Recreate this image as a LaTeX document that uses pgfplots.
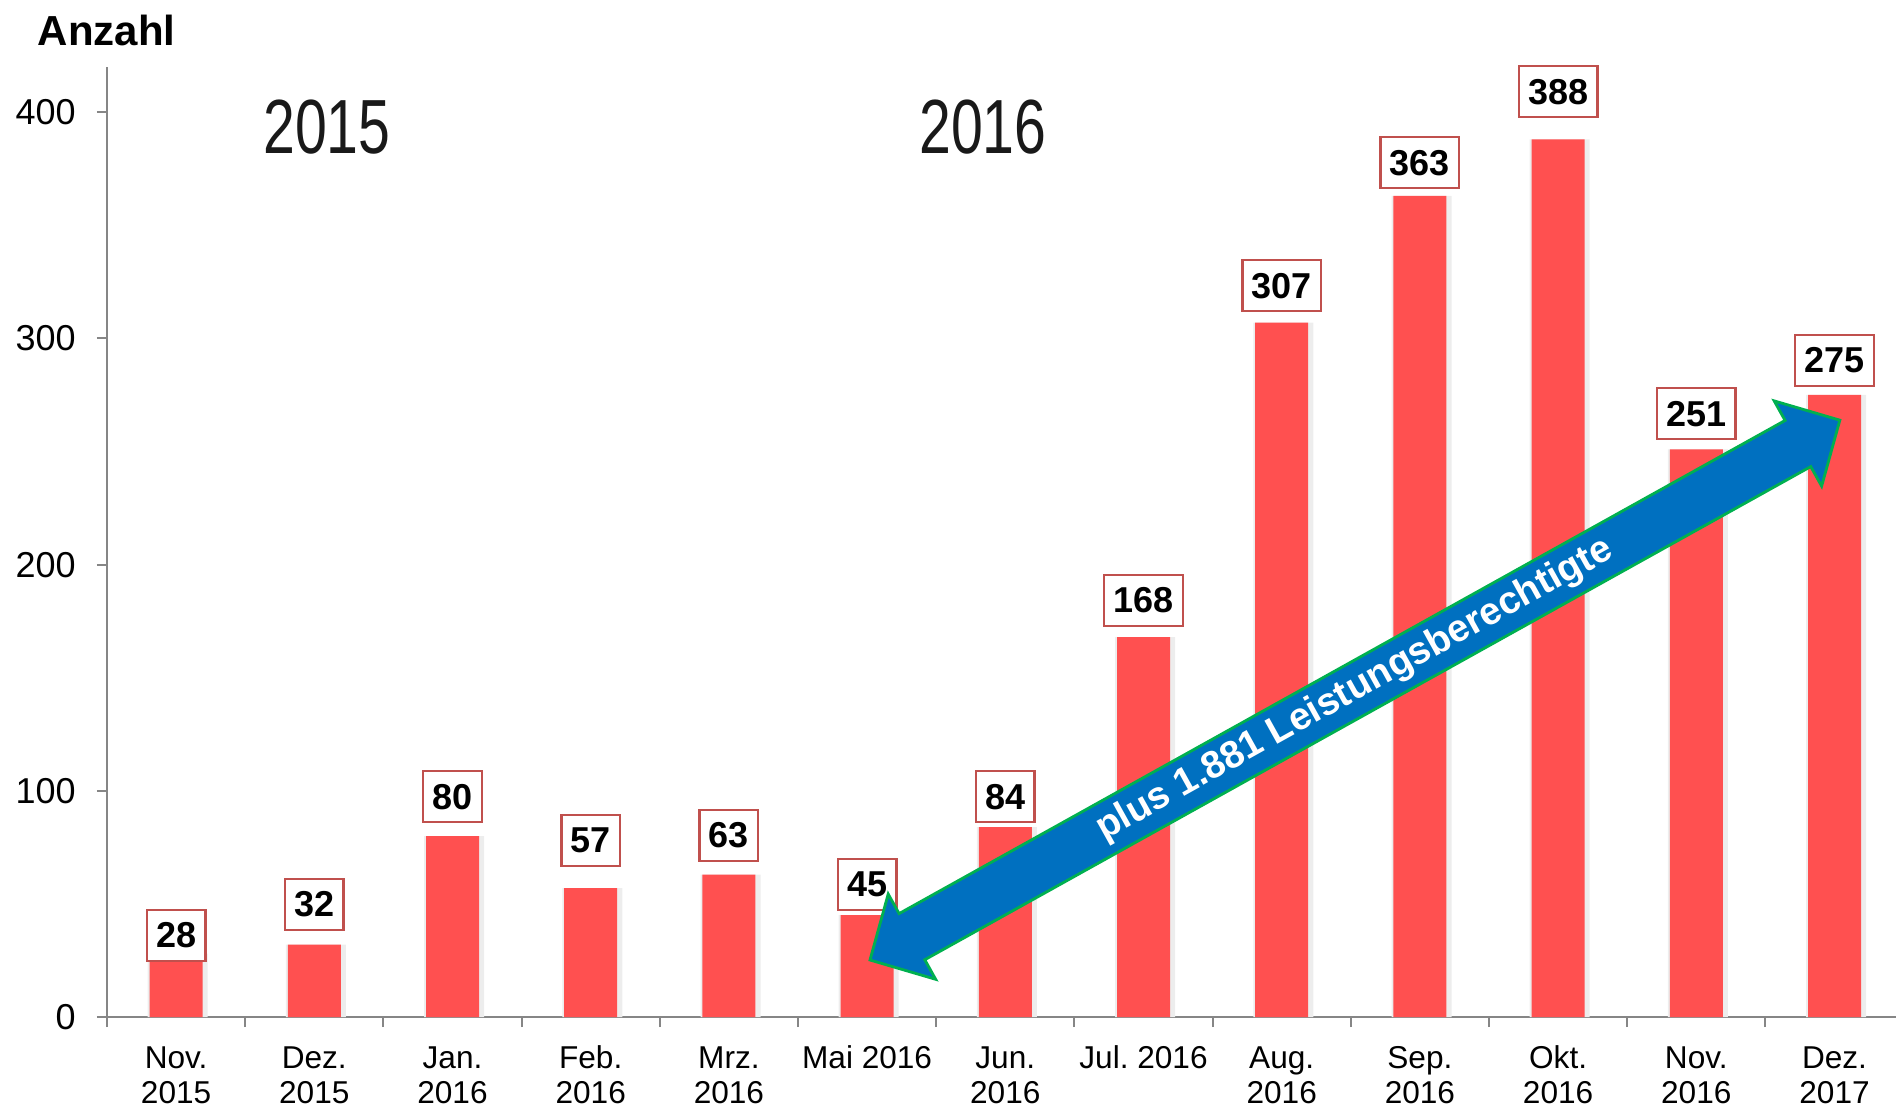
\documentclass[border=0pt]{standalone}
\usepackage{fontspec}
\setmainfont{Liberation Sans}
\usepackage{graphicx}
\usepackage{pgfplots}
\pgfplotsset{compat=1.18}
\frenchspacing
\definecolor{barred}{RGB}{255,80,80}
\definecolor{boxred}{RGB}{192,80,77}
\definecolor{axgray}{RGB}{134,134,134}
\definecolor{arrblue}{RGB}{0,112,192}
\definecolor{arrgreen}{RGB}{0,176,80}
\newcommand\tl[2]{\vphantom{Ab}#1\\#2}
\pgfplotstableread{
x y
0 28
1 32
2 80
3 57
4 63
5 45
6 84
7 168
8 307
9 363
10 388
11 251
12 275
}\bars
\pgfplotstableread{
x y l
0 24.3 28
1 38.0 32
2 85.7 80
3 66.3 57
4 68.5 63
5 46.9 45
6 85.7 84
7 172.4 168
8 311.6 307
9 366.0 363
10 397.3 388
11 255.0 251
12 278.5 275
}\labels
\begin{document}
\begin{tikzpicture}
\useasboundingbox (-26.75pt,-22.5pt) rectangle (447.25pt,254.25pt);
\begin{axis}[
  at={(0,0)}, anchor=south west,
  scale only axis, width=447.25pt, height=237.5pt,
  xmin=-0.5, xmax=12.445, ymin=0, ymax=420,
  clip=false,
  axis lines=left,
  axis line style={-, draw=axgray, line width=0.5pt},
  ytick={0,100,200,300,400},
  xtick={0,...,12},
  xticklabels={{\tl{Nov.}{2015}},{\tl{Dez.}{2015}},{\tl{Jan.}{2016}},{\tl{Feb.}{2016}},{\tl{Mrz.}{2016}},{\vphantom{Ab}Mai 2016},{\tl{Jun.}{2016}},{\vphantom{Ab}Jul. 2016},{\tl{Aug.}{2016}},{\tl{Sep.}{2016}},{\tl{Okt.}{2016}},{\tl{Nov.}{2016}},{\tl{Dez.}{2017}}},
  minor xtick={-0.5,0.5,1.5,2.5,3.5,4.5,5.5,6.5,7.5,8.5,9.5,10.5,11.5},
  tick align=outside,
  major tick length=2.5pt, minor tick length=2.5pt,
  every major x tick/.append style={draw=none},
  every minor x tick/.append style={draw=axgray, line width=0.5pt},
  every major y tick/.append style={draw=axgray, line width=0.5pt},
  /pgf/number format/assume math mode=true,
  yticklabel style={font=\fontsize{9pt}{10pt}\selectfont, xshift=-1.8pt},
  xticklabel style={font=\fontsize{7.9pt}{8.75pt}\selectfont, align=center, yshift=-1pt},
]
\addplot[ybar, bar width=15pt, bar shift=0.4pt, fill=black!7, draw=none] table[x=x,y=y] {\bars};
\addplot[ybar, bar width=13.25pt, fill=barred, draw=none] table[x=x,y=y] {\bars};
\addplot[draw=none, mark=none, point meta=explicit symbolic,
  nodes near coords={\pgfplotspointmeta},
  nodes near coords style={anchor=south, draw=boxred, line width=0.6pt, fill=white,
    font=\bfseries\fontsize{9pt}{10pt}\selectfont, minimum height=12.75pt,
    inner xsep=2.3pt, inner ysep=0pt, text depth=0pt}]
  table[x=x,y=y,meta=l] {\labels};
\end{axis}
\node[anchor=base west, inner sep=0pt, font=\bfseries\fontsize{10.5pt}{12pt}\selectfont] at (-17.5pt,243pt) {Anzahl};
\node[inner sep=0pt, text=black!90, font=\fontsize{19.2pt}{20pt}\selectfont] at (55pt,222.4pt) {\scalebox{0.745}[1]{2015}};
\node[inner sep=0pt, text=black!90, font=\fontsize{19.2pt}{20pt}\selectfont] at (219pt,222.4pt) {\scalebox{0.745}[1]{2016}};
\begin{scope}[shift={(190.75pt,14.25pt)}, rotate=29.1]
\filldraw[fill=arrblue, draw=arrgreen, line width=0.7pt, line join=miter]
  (0,0) -- (12pt,12.2pt) -- (12pt,6.6pt) -- (265.5pt,6.6pt) -- (265.5pt,12.2pt)
  -- (277.5pt,0) -- (265.5pt,-12.2pt) -- (265.5pt,-6.6pt) -- (12pt,-6.6pt)
  -- (12pt,-12.2pt) -- cycle;
\node[transform shape, text=white, font=\bfseries\fontsize{9.6pt}{10pt}\selectfont, inner sep=0pt] at (138.75pt,0pt) {plus 1.881 Leistungsberechtigte};
\end{scope}
\end{tikzpicture}
\end{document}
